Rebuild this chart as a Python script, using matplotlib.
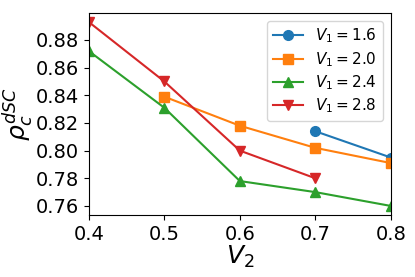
import matplotlib.pyplot as plt

# data
v2 = [0.4, 0.5, 0.6, 0.7, 0.8]
rho_16 = [None, None, None, 0.814, 0.795]
rho_20 = [None, 0.839, 0.818, 0.802, 0.791]
rho_24 = [0.872, 0.831, 0.778, 0.770, 0.760]
rho_28 = [0.893, 0.850, 0.800, 0.780, None]

series = [
    ('$V_1 = 1.6$', rho_16, 'o'),
    ('$V_1 = 2.0$', rho_20, 's'),
    ('$V_1 = 2.4$', rho_24, '^'),
    ('$V_1 = 2.8$', rho_28, 'v'),
]

fig = plt.figure(figsize=(4.15, 2.77), dpi=100)
ax = fig.add_axes([0.214, 0.224, 0.728, 0.729])
for label, vals, m in series:
    xs = [x for x, v in zip(v2, vals) if v is not None]
    ys = [v for v in vals if v is not None]
    ax.plot(xs, ys, marker=m, markersize=7, label=label)

ax.set_xlim(0.4, 0.8)
ax.set_ylim(0.7535, 0.8995)
ax.set_xticks([0.4, 0.5, 0.6, 0.7, 0.8])
ax.set_yticks([0.76, 0.78, 0.80, 0.82, 0.84, 0.86, 0.88])
ax.tick_params(labelsize=14)
ax.set_xlabel('$V_2$', fontsize=18, labelpad=0)
ax.set_ylabel(r'$\rho_c^{dSC}$', fontsize=18, labelpad=0)
ax.legend(fontsize=11, loc='upper right', labelspacing=0.3)

plt.savefig('out.png')
